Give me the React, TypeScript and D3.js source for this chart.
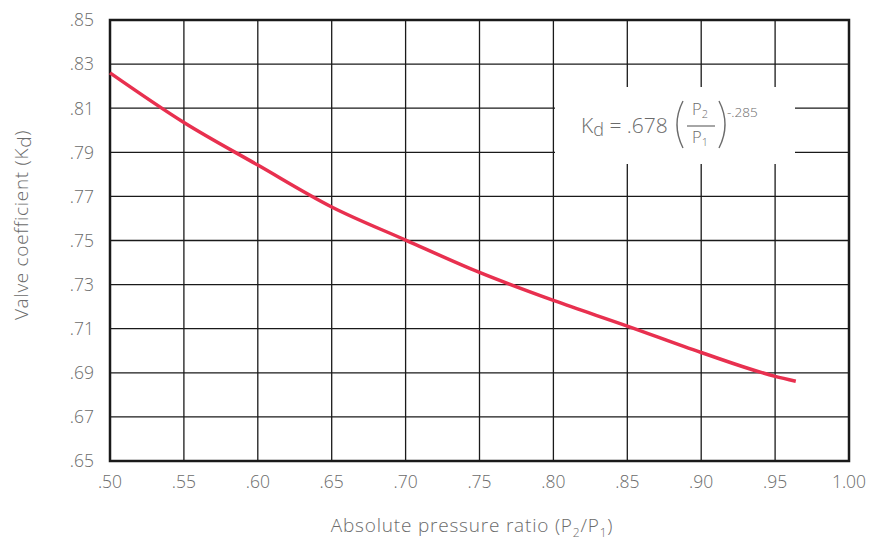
import React from "react";
import * as d3 from "d3";

const xTicks = [0.5, 0.55, 0.6, 0.65, 0.7, 0.75, 0.8, 0.85, 0.9, 0.95, 1.0];
const xTickLabels = [".50", ".55", ".60", ".65", ".70", ".75", ".80", ".85", ".90", ".95", "1.00"];
const yTicks = [0.65, 0.67, 0.69, 0.71, 0.73, 0.75, 0.77, 0.79, 0.81, 0.83, 0.85];
const yTickLabels = [".65", ".67", ".69", ".71", ".73", ".75", ".77", ".79", ".81", ".83", ".85"];
const ratio = [0.5, 0.55, 0.6, 0.65, 0.7, 0.75, 0.8, 0.85, 0.9, 0.95, 0.964];
const kd = [0.826, 0.8035, 0.7842, 0.7652, 0.7502, 0.7355, 0.7228, 0.7112, 0.6992, 0.6884, 0.6862];

const W = 871, H = 543;
const L = 110, R = 849, T = 20, B = 461;
const FONT = "'Open Sans', Roboto, sans-serif";
const GRAY = "#6b6b6b";

export default function App() {
  const x = d3.scaleLinear().domain([0.5, 1.0]).range([L, R]);
  const y = d3.scaleLinear().domain([0.65, 0.85]).range([B, T]);
  const line = d3.line<number>()
    .x((_, i) => x(ratio[i]))
    .y((v) => y(v))
    .curve(d3.curveMonotoneX);

  const boxX0 = 555, boxX1 = 795, boxY0 = 87, boxY1 = 164;

  return (
    <svg width={W} height={H} style={{ position: "absolute", left: 0, top: 0, background: "#fff" }}>
      <rect x={0} y={0} width={W} height={H} fill="#fff" />
      {xTicks.slice(1, -1).map((t) => (
        <line key={"vx" + t} x1={x(t)} x2={x(t)} y1={T} y2={B} stroke="#1a1a1a" strokeWidth={1.3} />
      ))}
      {yTicks.slice(1, -1).map((t) => (
        <line key={"hy" + t} x1={L} x2={R} y1={y(t)} y2={y(t)} stroke="#1a1a1a" strokeWidth={1.3} />
      ))}
      <rect x={boxX0} y={boxY0} width={boxX1 - boxX0} height={boxY1 - boxY0} fill="#fff" />
      <rect x={L} y={T} width={R - L} height={B - T} fill="none" stroke="#1a1a1a" strokeWidth={2.5} />
      <path d={line(kd) || ""} fill="none" stroke="#e8304f" strokeWidth={3.5} strokeLinecap="butt" />

      {yTicks.map((t, i) => (
        <text key={"yl" + t} x={94} y={y(t)} dy="0.36em" textAnchor="end" fontFamily={FONT} fontWeight={300} fontSize={17.5} fill={GRAY}>
          {yTickLabels[i]}
        </text>
      ))}
      {xTicks.map((t, i) => (
        <text key={"xl" + t} x={x(t)} y={482} dy="0.36em" textAnchor="middle" fontFamily={FONT} fontWeight={300} fontSize={17.5} fill={GRAY}>
          {xTickLabels[i]}
        </text>
      ))}

      <text x={472} y={532} textAnchor="middle" fontFamily={FONT} fontWeight={300} fontSize={19} letterSpacing={0.8} fill={GRAY}>
        Absolute pressure ratio (P<tspan fontSize={12} dy={5}>2</tspan><tspan dy={-5}>/P</tspan><tspan fontSize={12} dy={5}>1</tspan><tspan dy={-5}>)</tspan>
      </text>
      <text transform={`translate(28,225) rotate(-90)`} textAnchor="middle" fontFamily={FONT} fontWeight={300} fontSize={19} letterSpacing={0.7} fill={GRAY}>
        Valve coefficient (K<tspan dy={3}>d</tspan><tspan dy={-3}>)</tspan>
      </text>

      <g fontFamily={FONT} fontWeight={300} fill={GRAY}>
        <text x={581} y={133} fontSize={21}>K<tspan fontSize={18} dy={3}>d</tspan><tspan dy={-3}> = .678</tspan></text>
        <path d="M683,101 Q671,124.5 683,148" fill="none" stroke={GRAY} strokeWidth={1.4} />
        <text x={700} y={115} fontSize={16.5} textAnchor="middle">P<tspan fontSize={11} dy={3}>2</tspan></text>
        <line x1={687} x2={715} y1={126} y2={126} stroke={GRAY} strokeWidth={1.2} />
        <text x={700} y={143} fontSize={16.5} textAnchor="middle">P<tspan fontSize={11} dy={3}>1</tspan></text>
        <path d="M719,101 Q731,124.5 719,148" fill="none" stroke={GRAY} strokeWidth={1.4} />
        <text x={727} y={117} fontSize={13.5}>-.285</text>
      </g>
    </svg>
  );
}
